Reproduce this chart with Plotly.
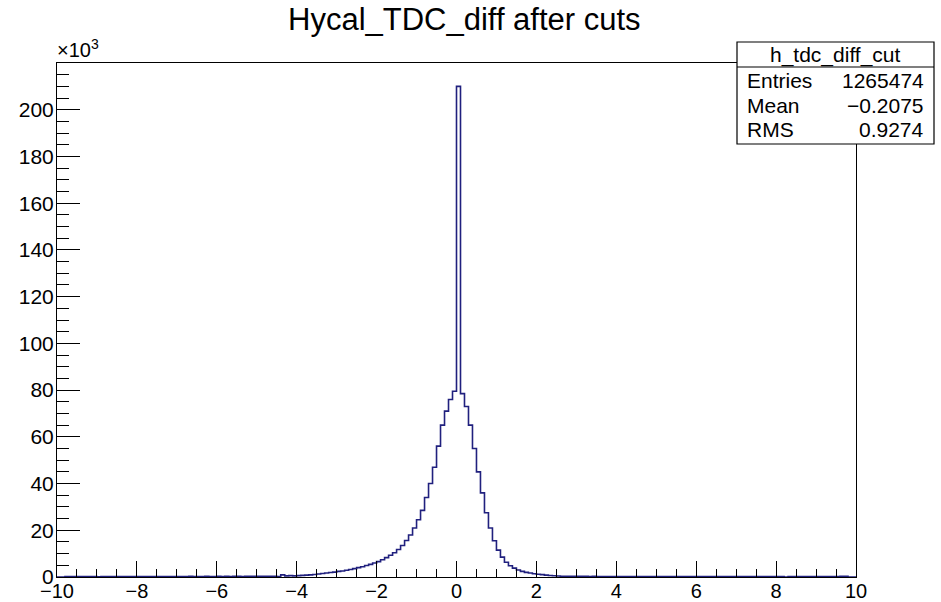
import numpy as np
import plotly.graph_objects as go

# ---- data ----
x_min, x_max, n_bins = -10.0, 10.0, 200
title_text = "Hycal_TDC_diff after cuts"
hist_name = "h_tdc_diff_cut"
stat_labels = ["Entries", "Mean", "RMS"]
stat_values = ["1265474", "\u22120.2075", "0.9274"]

# bin contents in thousands, bins of width 0.1 from -10 to 10
counts_k = [
    # -10.0 .. -9.1
    0, 0, 0.2, 0.2, 0.15, 0.2, 0.2, 0.15, 0.2, 0.2,
    # -9.0 .. -8.1
    0.1, 0.2, 0.2, 0.15, 0.2, 0.2, 0.2, 0.15, 0.2, 0.2,
    # -8.0 .. -7.1
    0.2, 0.2, 0.15, 0.2, 0.2, 0.2, 0.2, 0.2, 0.2, 0.2,
    # -7.0 .. -6.1
    0.2, 0.2, 0.2, 0.25, 0.2, 0.2, 0.2, 0.25, 0.2, 0.2,
    # -6.0 .. -5.1
    0.25, 0.2, 0.25, 0.2, 0.25, 0.25, 0.2, 0.25, 0.25, 0.25,
    # -5.0 .. -4.1
    0.25, 0.3, 0.25, 0.3, 0.3, 0.2, 0.9, 0.5, 0.6, 0.5,
    # -4.0 .. -3.1
    0.6, 0.7, 0.8, 0.9, 1.1, 1.3, 1.5, 1.7, 1.9, 2.1,
    # -3.0 .. -2.1
    2.4, 2.6, 2.9, 3.2, 3.6, 4.0, 4.4, 4.9, 5.4, 6.0,
    # -2.0 .. -1.1
    6.6, 7.4, 8.3, 9.3, 10.4, 11.8, 13.5, 15.6, 18.0, 21.0,
    # -1.0 .. -0.1
    24.5, 28.5, 34.0, 40.0, 47.0, 56.0, 65.0, 71.0, 76.0, 79.5,
    # 0.0 .. 0.9
    210.0, 78.5, 73.0, 65.0, 55.0, 45.0, 36.0, 27.5, 21.0, 15.5,
    # 1.0 .. 1.9
    11.5, 8.5, 6.3, 4.8, 3.8, 3.0, 2.4, 2.0, 1.7, 1.4,
    # 2.0 .. 2.9
    1.2, 1.0, 0.8, 0.65, 0.55, 0.45, 0.35, 0.3, 0.3, 0.25,
    # 3.0 .. 3.9
    0.25, 0.25, 0.25, 0.2, 0.25, 0.2, 0.2, 0.2, 0.2, 0.2,
    # 4.0 .. 4.9
    0.2, 0.2, 0.2, 0.2, 0.2, 0.2, 0.2, 0.2, 0.2, 0.2,
    # 5.0 .. 5.9
    0.2, 0.2, 0.2, 0.2, 0.2, 0.2, 0.15, 0.2, 0.2, 0.2,
    # 6.0 .. 6.9
    0.2, 0.2, 0.2, 0.15, 0.2, 0.2, 0.2, 0.2, 0.15, 0.2,
    # 7.0 .. 7.9
    0.2, 0.15, 0.2, 0.2, 0.2, 0.15, 0.2, 0.2, 0.2, 0.15,
    # 8.0 .. 8.9
    0.2, 0.2, 0.0, 0.15, 0.2, 0.15, 0.2, 0.15, 0.2, 0.15,
    # 9.0 .. 9.9
    0.2, 0.15, 0.15, 0.2, 0.15, 0.2, 0.3, 0.3, 0, 0,
]

y_tick_vals_k = [0, 20, 40, 60, 80, 100, 120, 140, 160, 180, 200]
y_tick_text = [str(v) for v in y_tick_vals_k]
y_max_k = 220.0

# ---- build ----
edges = np.linspace(x_min, x_max, n_bins + 1)
counts = np.array(counts_k) * 1000.0
xs = np.concatenate([edges[:-1], [edges[-1]]])
ys = np.concatenate([counts, [counts[-1]]])

FONT = "Liberation Sans, Arial, Helvetica, sans-serif"
W, H = 941, 602
# frame in page pixels: left 57, right 856, top 63, bottom 577
L, R, T, B = 57, W - 856, 63, H - 577
pw, ph = W - L - R, H - T - B


def px(x):
    return (x - L) / pw


def py(y):
    return (H - B - y) / ph


fig = go.Figure()
fig.add_trace(go.Scatter(
    x=xs, y=ys, mode="lines", line=dict(color="#20207e", width=1.6, shape="hv"),
    hoverinfo="skip", showlegend=False,
))

axis_common = dict(
    showline=True, linecolor="black", linewidth=1, mirror=True,
    showgrid=False, zeroline=False, ticks="inside", tickcolor="black",
)

fig.update_xaxes(
    range=[x_min, x_max], tick0=-10, dtick=2, ticklen=16, tickwidth=1,
    minor=dict(dtick=0.5, tick0=-10, ticklen=8, ticks="inside", tickcolor="black", showgrid=False),
    automargin=False, ticklabelstandoff=-4,
    tickfont=dict(family=FONT, size=20, color="black"), **axis_common,
)
fig.update_yaxes(
    range=[0, y_max_k * 1000], tickvals=[v * 1000 for v in y_tick_vals_k], ticktext=y_tick_text,
    ticklen=23, tickwidth=1,
    minor=dict(dtick=5000, tick0=0, ticklen=12, ticks="inside", tickcolor="black", showgrid=False),
    automargin=False, ticklabelstandoff=-2,
    tickfont=dict(family=FONT, size=21, color="black"), **axis_common,
)

shapes = [
    dict(type="rect", xref="paper", yref="paper", x0=px(737), x1=px(934), y0=py(144), y1=py(42),
         line=dict(color="black", width=1.2), fillcolor="white", layer="above"),
    dict(type="line", xref="paper", yref="paper", x0=px(737), x1=px(934), y0=py(67), y1=py(67),
         line=dict(color="black", width=1.2), layer="above"),
]

annotations = [
    dict(text=title_text, xref="paper", yref="paper", x=px(465), y=py(19), xanchor="center",
         yanchor="middle", showarrow=False, font=dict(family=FONT, size=31, color="black")),
    dict(text="\u00d710<sup>3</sup>", xref="paper", yref="paper", x=px(55), y=py(63), xanchor="left",
         yanchor="bottom", showarrow=False, font=dict(family=FONT, size=20, color="black")),
    dict(text=hist_name, xref="paper", yref="paper", x=px(835), y=py(55), xanchor="center",
         yanchor="middle", showarrow=False, font=dict(family=FONT, size=21, color="black")),
]
row_y = [80, 105, 129]
for lab, val, yy in zip(stat_labels, stat_values, row_y):
    annotations.append(dict(text=lab, xref="paper", yref="paper", x=px(745), y=py(yy), xanchor="left",
                            yanchor="middle", showarrow=False, font=dict(family=FONT, size=21, color="black")))
    annotations.append(dict(text=val, xref="paper", yref="paper", x=px(926), y=py(yy), xanchor="right",
                            yanchor="middle", showarrow=False, font=dict(family=FONT, size=21, color="black")))

fig.update_layout(
    width=W, height=H, margin=dict(l=L, r=R, t=T, b=B, autoexpand=False),
    paper_bgcolor="white", plot_bgcolor="white",
    shapes=shapes, annotations=annotations, showlegend=False,
)

fig.write_html("out.html", config={"displayModeBar": False},
               post_script="document.body.style.margin='0px';")
